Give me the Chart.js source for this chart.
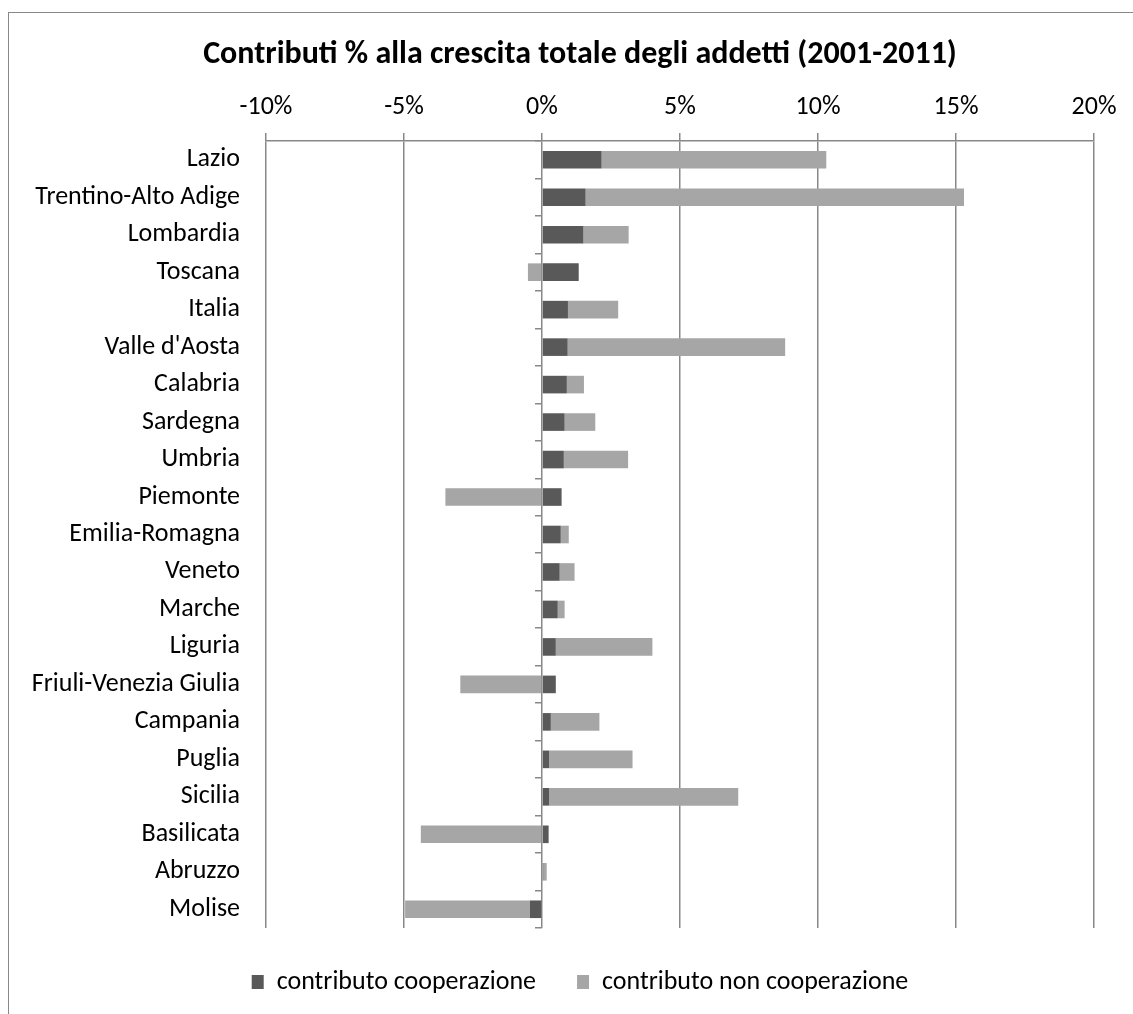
<!DOCTYPE html>
<html>
<head>
<meta charset="utf-8">
<script src="https://cdn.jsdelivr.net/npm/chart.js@4"></script>
<style>
  html, body { margin: 0; padding: 0; background: #fff; overflow: hidden; }
  #cornice { position: absolute; left: 8px; top: 12px; width: 1200px; height: 1100px; border: 1px solid #888; }
  #box { position: absolute; left: 0; top: 0; width: 1133px; height: 1014px; }
</style>
</head>
<body>
<div id="cornice"></div>
<div id="box"><canvas id="grafico"></canvas></div>
<script>
// Regioni (dall'alto in basso)
const regioni = ['Lazio', 'Trentino-Alto Adige', 'Lombardia', 'Toscana', 'Italia', "Valle d'Aosta",
    'Calabria', 'Sardegna', 'Umbria', 'Piemonte', 'Emilia-Romagna', 'Veneto', 'Marche', 'Liguria',
    'Friuli-Venezia Giulia', 'Campania', 'Puglia', 'Sicilia', 'Basilicata', 'Abruzzo', 'Molise'];

// Contributi in punti percentuali
const contributoCooperazione = [2.16, 1.58, 1.50, 1.33, 0.94, 0.93, 0.90, 0.82, 0.79, 0.71,
    0.68, 0.64, 0.57, 0.50, 0.50, 0.32, 0.26, 0.26, 0.24, 0.05, -0.44];
const contributoNonCooperazione = [8.14, 13.71, 1.64, -0.51, 1.82, 7.88, 0.62, 1.11, 2.33, -3.50,
    0.29, 0.54, 0.25, 3.50, -2.96, 1.76, 3.02, 6.85, -4.39, 0.12, -4.52];

// Asse x
const tickMin = -10;
const tickMax = 20;
const tickPasso = 5;

const titolo = 'Contributi % alla crescita totale degli addetti (2001-2011)';
const fontFamily = 'Carlito, Calibri, Lato, sans-serif';
const grigioGriglia = '#888888';

const ctx = document.getElementById('grafico').getContext('2d');
new Chart(ctx, {
    type: 'bar',
    data: {
        labels: regioni,
        datasets: [
            {
                label: 'contributo cooperazione',
                backgroundColor: '#595959',
                data: contributoCooperazione
            },
            {
                label: 'contributo non cooperazione',
                backgroundColor: '#a6a6a6',
                data: contributoNonCooperazione
            }
        ]
    },
    options: {
        indexAxis: 'y',
        responsive: true,
        maintainAspectRatio: false,
        animation: false,
        datasets: {
            bar: { barPercentage: 0.47, categoryPercentage: 1 }
        },
        layout: {
            padding: { left: 27, right: 0, top: 0, bottom: 9 }
        },
        scales: {
            x: {
                position: 'top',
                stacked: true,
                min: tickMin,
                max: tickMax,
                afterFit: function(scale) { scale.height = 56.6; },
                ticks: {
                    stepSize: tickPasso,
                    padding: 10,
                    color: '#000',
                    font: { family: fontFamily, size: 26 },
                    callback: function(value) { return value + '%'; }
                },
                grid: { color: grigioGriglia, lineWidth: 1.5, tickLength: 8, drawTicks: true },
                border: { display: true, color: grigioGriglia, width: 1.5 }
            },
            y: {
                stacked: true,
                afterFit: function(scale) { scale.width = 239; },
                ticks: {
                    padding: 26,
                    color: '#000',
                    font: { family: fontFamily, size: 26 }
                },
                grid: { display: false, drawTicks: false },
                border: { display: false }
            },
            // spazio vuoto a destra dell'area del grafico
            destra: {
                type: 'category',
                axis: 'y',
                position: 'right',
                labels: regioni,
                afterFit: function(scale) { scale.width = 39; },
                ticks: { display: false },
                grid: { display: false, drawTicks: false },
                border: { display: false }
            },
            // piccole tacche sull'asse dello zero
            tacche: {
                type: 'category',
                axis: 'y',
                labels: regioni,
                offset: true,
                position: { x: 0 },
                ticks: { display: false },
                grid: { offset: true, drawOnChartArea: false, drawTicks: true, tickLength: 7, lineWidth: 1.5, color: grigioGriglia },
                border: { display: false }
            }
        },
        plugins: {
            title: {
                display: true,
                text: titolo,
                color: '#000',
                font: { family: fontFamily, size: 32, weight: 'bold' },
                padding: { top: 36, bottom: 10 }
            },
            legend: {
                position: 'bottom',
                labels: {
                    boxWidth: 12,
                    boxHeight: 14,
                    padding: 41,
                    color: '#000',
                    font: { family: fontFamily, size: 26 }
                }
            },
            tooltip: { enabled: false }
        }
    }
});
</script>
</body>
</html>
